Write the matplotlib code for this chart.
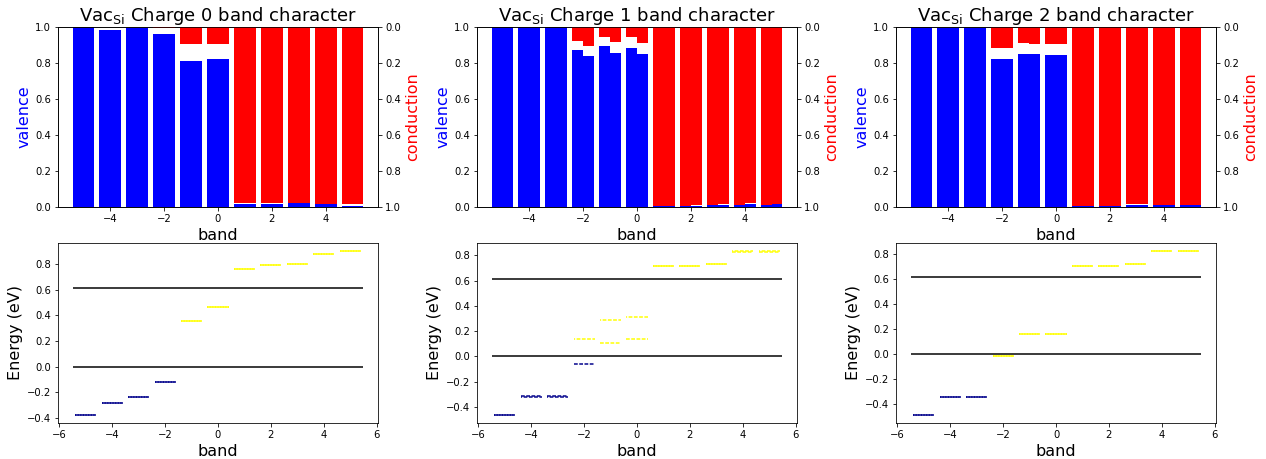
import numpy as np
import matplotlib
matplotlib.use("Agg")
import matplotlib.pyplot as plt

bands = [-5, -4, -3, -2, -1, 0, 1, 2, 3, 4, 5]
charges = [0, 1, 2]

# valence / conduction character, spin up (left half) and spin down (right half)
val_up_c0 = [1.0, 0.98, 0.994, 0.958, 0.811, 0.818, 0.013, 0.014, 0.02, 0.013, 0.006]
val_dn_c0 = [1.0, 0.98, 0.994, 0.958, 0.811, 0.818, 0.013, 0.014, 0.02, 0.013, 0.006]
cond_up_c0 = [0.0, 0.0, 0.0, 0.006, 0.096, 0.098, 0.981, 0.981, 0.978, 0.983, 0.987]
cond_dn_c0 = [0.0, 0.0, 0.0, 0.006, 0.096, 0.094, 0.981, 0.981, 0.978, 0.983, 0.987]

val_up_c1 = [1.0, 1.0, 1.0, 0.870, 0.891, 0.883, 0.002, 0.002, 0.007, 0.007, 0.008]
val_dn_c1 = [1.0, 1.0, 1.0, 0.837, 0.856, 0.848, 0.002, 0.005, 0.011, 0.013, 0.013]
cond_up_c1 = [0.0, 0.0, 0.0, 0.078, 0.055, 0.059, 0.995, 0.995, 0.990, 0.990, 0.988]
cond_dn_c1 = [0.0, 0.0, 0.0, 0.105, 0.085, 0.092, 0.995, 0.993, 0.985, 0.982, 0.983]

val_up_c2 = [1.0, 0.994, 0.994, 0.822, 0.848, 0.844, 0.003, 0.003, 0.012, 0.008, 0.010]
val_dn_c2 = [1.0, 0.994, 0.994, 0.822, 0.848, 0.844, 0.003, 0.003, 0.012, 0.008, 0.010]
cond_up_c2 = [0.0, 0.0, 0.0, 0.117, 0.092, 0.096, 0.995, 0.995, 0.985, 0.990, 0.988]
cond_dn_c2 = [0.0, 0.0, 0.0, 0.117, 0.096, 0.096, 0.995, 0.995, 0.985, 0.990, 0.988]

# band energies (eV), spin up / spin down, and occupations
e_up_c0 = [-0.374, -0.286, -0.239, -0.122, 0.358, 0.464, 0.757, 0.788, 0.798, 0.874, 0.900]
e_dn_c0 = [-0.374, -0.286, -0.239, -0.122, 0.358, 0.464, 0.757, 0.788, 0.798, 0.874, 0.900]
occ_up_c0 = [1, 1, 1, 1, 0, 0, 0, 0, 0, 0, 0]
occ_dn_c0 = [1, 1, 1, 1, 0, 0, 0, 0, 0, 0, 0]

e_up_c1 = [-0.463, -0.315, -0.315, -0.061, 0.109, 0.137, 0.715, 0.715, 0.733, 0.831, 0.831]
e_dn_c1 = [-0.463, -0.322, -0.322, 0.135, 0.286, 0.312, 0.720, 0.720, 0.733, 0.836, 0.836]
occ_up_c1 = [1, 1, 1, 1, 0, 0, 0, 0, 0, 0, 0]
occ_dn_c1 = [1, 1, 1, 0, 0, 0, 0, 0, 0, 0, 0]

e_up_c2 = [-0.487, -0.343, -0.343, -0.014, 0.154, 0.160, 0.700, 0.700, 0.716, 0.821, 0.821]
e_dn_c2 = [-0.487, -0.343, -0.343, -0.014, 0.154, 0.160, 0.700, 0.700, 0.716, 0.821, 0.821]
occ_up_c2 = [1, 1, 1, 0, 0, 0, 0, 0, 0, 0, 0]
occ_dn_c2 = [1, 1, 1, 0, 0, 0, 0, 0, 0, 0, 0]

vbm = 0.0
cbm = 0.612

data = [
    (val_up_c0, val_dn_c0, cond_up_c0, cond_dn_c0, e_up_c0, e_dn_c0, occ_up_c0, occ_dn_c0),
    (val_up_c1, val_dn_c1, cond_up_c1, cond_dn_c1, e_up_c1, e_dn_c1, occ_up_c1, occ_dn_c1),
    (val_up_c2, val_dn_c2, cond_up_c2, cond_dn_c2, e_up_c2, e_dn_c2, occ_up_c2, occ_dn_c2),
]

DPI = 72
fig = plt.figure(figsize=(1266 / DPI, 459 / DPI), dpi=DPI)

lefts = [58 / 1266, 477 / 1266, 896 / 1266]
w = 320 / 1266
x = np.array(bands, dtype=float)

for i, q in enumerate(charges):
    vu, vd, cu, cd, eu, ed, ou, od = data[i]
    ax = fig.add_axes([lefts[i], 0.5497, w, 0.3922])
    ax.bar(x - 0.2, vu, 0.4, color="blue", edgecolor="none")
    ax.bar(x + 0.2, vd, 0.4, color="blue", edgecolor="none")
    ax.set_ylim(0, 1)
    ax.set_ylabel("valence", color="blue", fontsize=16)
    ax.set_xlabel("band", fontsize=16)
    ax.set_title(r"Vac$_{\mathrm{Si}}$ Charge %d band character" % q, fontsize=18)
    ax2 = ax.twinx()
    ax2.bar(x - 0.2, cu, 0.4, color="red", edgecolor="none")
    ax2.bar(x + 0.2, cd, 0.4, color="red", edgecolor="none")
    ax2.set_ylim(1, 0)
    ax2.set_ylabel("conduction", color="red", fontsize=16)

    axb = fig.add_axes([lefts[i], 0.0784, w, 0.3928])
    axb.hlines([vbm, cbm], -5.5, 5.5, colors="black", lw=1.5)
    cu_cols = ["darkblue" if o else "yellow" for o in ou]
    cd_cols = ["darkblue" if o else "yellow" for o in od]
    axb.hlines(eu, x - 0.4, x + 0.4, colors=cu_cols, lw=1.5,
               linestyles=[(0, (2.5, 1.0))])
    axb.hlines(ed, x - 0.4, x + 0.4, colors=cd_cols, lw=1.5,
               linestyles=[(1.75, (2.5, 1.0))])
    axb.set_xlim(-6.05, 6.05)
    axb.set_xlabel("band", fontsize=16)
    axb.set_ylabel("Energy (eV)", fontsize=16)

fig.savefig("out.png", dpi=DPI)
